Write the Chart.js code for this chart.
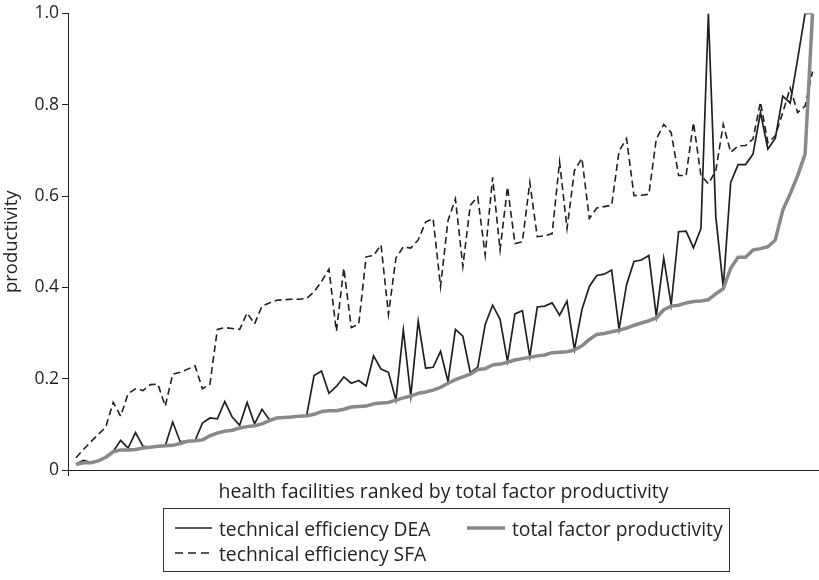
<!DOCTYPE html>
<html><head><meta charset="utf-8">
<script src="https://cdn.jsdelivr.net/npm/chart.js@4"></script>
<style>
body{margin:0;background:#fff;width:819px;height:580px;overflow:hidden;position:relative;font-family:"Open Sans",sans-serif;}
#wrap{position:absolute;left:0;top:0;width:819px;height:580px;}
#legend{position:absolute;left:163px;top:508px;width:565px;height:62px;border:1px solid #333;font-size:19.3px;color:#231f20;}
.item{position:absolute;display:flex;align-items:center;height:24px;white-space:nowrap;}
.item svg{margin-right:7px;}
</style></head><body>
<div id="wrap"><canvas id="c" width="819" height="580"></canvas></div>
<div id="legend">
 <div class="item" style="left:11px;top:7px"><svg width="37" height="10"><line x1="0" y1="5" x2="37" y2="5" stroke="#231f20" stroke-width="1.6"/></svg>technical efficiency DEA</div>
 <div class="item" style="left:303px;top:7px"><svg width="38" height="10"><line x1="0" y1="5" x2="38" y2="5" stroke="#898989" stroke-width="3.5"/></svg>total factor productivity</div>
 <div class="item" style="left:11px;top:32px"><svg width="37" height="10"><line x1="0" y1="5" x2="37" y2="5" stroke="#231f20" stroke-width="1.5" stroke-dasharray="8,5"/></svg>technical efficiency SFA</div>
</div>
<script>
// facilities ranked 1..100 by total factor productivity
const tfp = [0.012,0.016,0.016,0.02,0.028,0.04,0.044,0.044,0.045,0.048,
 0.05,0.052,0.053,0.054,0.058,0.063,0.064,0.066,0.075,0.081,
 0.085,0.087,0.092,0.095,0.097,0.101,0.108,0.114,0.115,0.116,
 0.118,0.119,0.122,0.128,0.13,0.13,0.133,0.138,0.139,0.14,
 0.145,0.147,0.148,0.153,0.158,0.162,0.168,0.171,0.175,0.181,
 0.19,0.198,0.204,0.21,0.22,0.222,0.23,0.232,0.236,0.241,
 0.244,0.247,0.25,0.252,0.257,0.258,0.259,0.263,0.272,0.286,
 0.297,0.299,0.303,0.306,0.311,0.317,0.322,0.327,0.333,0.351,
 0.359,0.361,0.366,0.369,0.37,0.373,0.386,0.397,0.442,0.466,
 0.466,0.482,0.485,0.489,0.504,0.569,0.605,0.645,0.692,1.0];
const dea = [0.013,0.021,0.017,0.02,0.028,0.04,0.065,0.048,0.082,0.052,
 0.05,0.052,0.053,0.105,0.062,0.063,0.064,0.103,0.114,0.112,
 0.15,0.116,0.098,0.148,0.101,0.133,0.11,0.114,0.115,0.116,
 0.118,0.119,0.207,0.217,0.168,0.183,0.204,0.19,0.196,0.184,
 0.25,0.221,0.214,0.153,0.307,0.162,0.326,0.223,0.225,0.26,
 0.194,0.308,0.293,0.213,0.225,0.319,0.361,0.33,0.238,0.342,
 0.349,0.248,0.357,0.359,0.366,0.339,0.37,0.264,0.351,0.402,
 0.426,0.429,0.438,0.308,0.406,0.457,0.46,0.47,0.337,0.464,
 0.362,0.522,0.523,0.487,0.529,1.0,0.555,0.4,0.63,0.669,
 0.669,0.692,0.783,0.703,0.727,0.819,0.804,0.9,1.0,1.0];
const sfa = [0.027,0.045,0.062,0.078,0.094,0.148,0.118,0.167,0.178,0.174,
 0.187,0.188,0.14,0.21,0.214,0.221,0.228,0.178,0.188,0.308,
 0.312,0.31,0.308,0.344,0.32,0.359,0.366,0.372,0.373,0.374,
 0.374,0.376,0.39,0.413,0.44,0.304,0.442,0.312,0.319,0.467,
 0.47,0.493,0.341,0.464,0.489,0.486,0.504,0.543,0.551,0.402,
 0.546,0.594,0.446,0.58,0.598,0.471,0.641,0.482,0.62,0.496,
 0.5,0.63,0.511,0.513,0.518,0.675,0.529,0.656,0.683,0.551,
 0.574,0.577,0.58,0.699,0.726,0.601,0.602,0.604,0.725,0.757,
 0.739,0.645,0.645,0.761,0.645,0.627,0.656,0.757,0.696,0.71,
 0.711,0.725,0.806,0.717,0.732,0.783,0.837,0.783,0.797,0.873];
const yTicks = [0, 0.2, 0.4, 0.6, 0.8, 1.0];

const pts = arr => arr.map((v, i) => ({x: i, y: v}));
const INK = '#231f20';
const FONT = '"Open Sans", sans-serif';

new Chart(document.getElementById('c'), {
  type: 'line',
  data: {
    datasets: [
      {label: 'total factor productivity', data: pts(tfp), borderColor: '#898989', borderWidth: 3.5, pointRadius: 0, tension: 0, order: 0, borderJoinStyle: 'round'},
      {label: 'technical efficiency DEA', data: pts(dea), borderColor: INK, borderWidth: 1.7, pointRadius: 0, tension: 0, order: 1},
      {label: 'technical efficiency SFA', data: pts(sfa), borderColor: INK, borderWidth: 1.6, borderDash: [7, 4], pointRadius: 0, tension: 0, order: 2}
    ]
  },
  options: {
    responsive: false, animation: false, devicePixelRatio: 1,
    layout: {padding: {left: 0, right: 0, top: 10, bottom: 74}},
    plugins: {legend: {display: false}, tooltip: {enabled: false}},
    scales: {
      x: {
        type: 'linear', min: -1.075, max: 99.87,
        afterBuildTicks: s => { s.ticks = [{value: s.min}]; },
        ticks: {display: false},
        grid: {drawOnChartArea: false, drawTicks: true, tickLength: 6, color: INK},
        border: {color: INK, width: 1},
        title: {display: true, text: 'health facilities ranked by total factor productivity', color: INK, font: {family: FONT, size: 19.5}, padding: {top: 0, bottom: 2}},
        afterFit: s => { s.height = 36; }
      },
      y: {
        min: 0, max: 1,
        afterBuildTicks: s => { s.ticks = yTicks.map(v => ({value: v})); },
        ticks: {color: INK, font: {family: FONT, size: 17.5}, padding: 3, callback: v => v === 0 ? '0' : v.toFixed(1)},
        grid: {drawOnChartArea: false, drawTicks: true, tickLength: 6, color: INK},
        border: {color: INK, width: 1},
        title: {display: true, text: 'productivity', color: INK, font: {family: FONT, size: 18.5}, padding: {top: 1, bottom: 0}},
        afterFit: s => { s.width = 68; }
      }
    }
  }
});
</script>
</body></html>
